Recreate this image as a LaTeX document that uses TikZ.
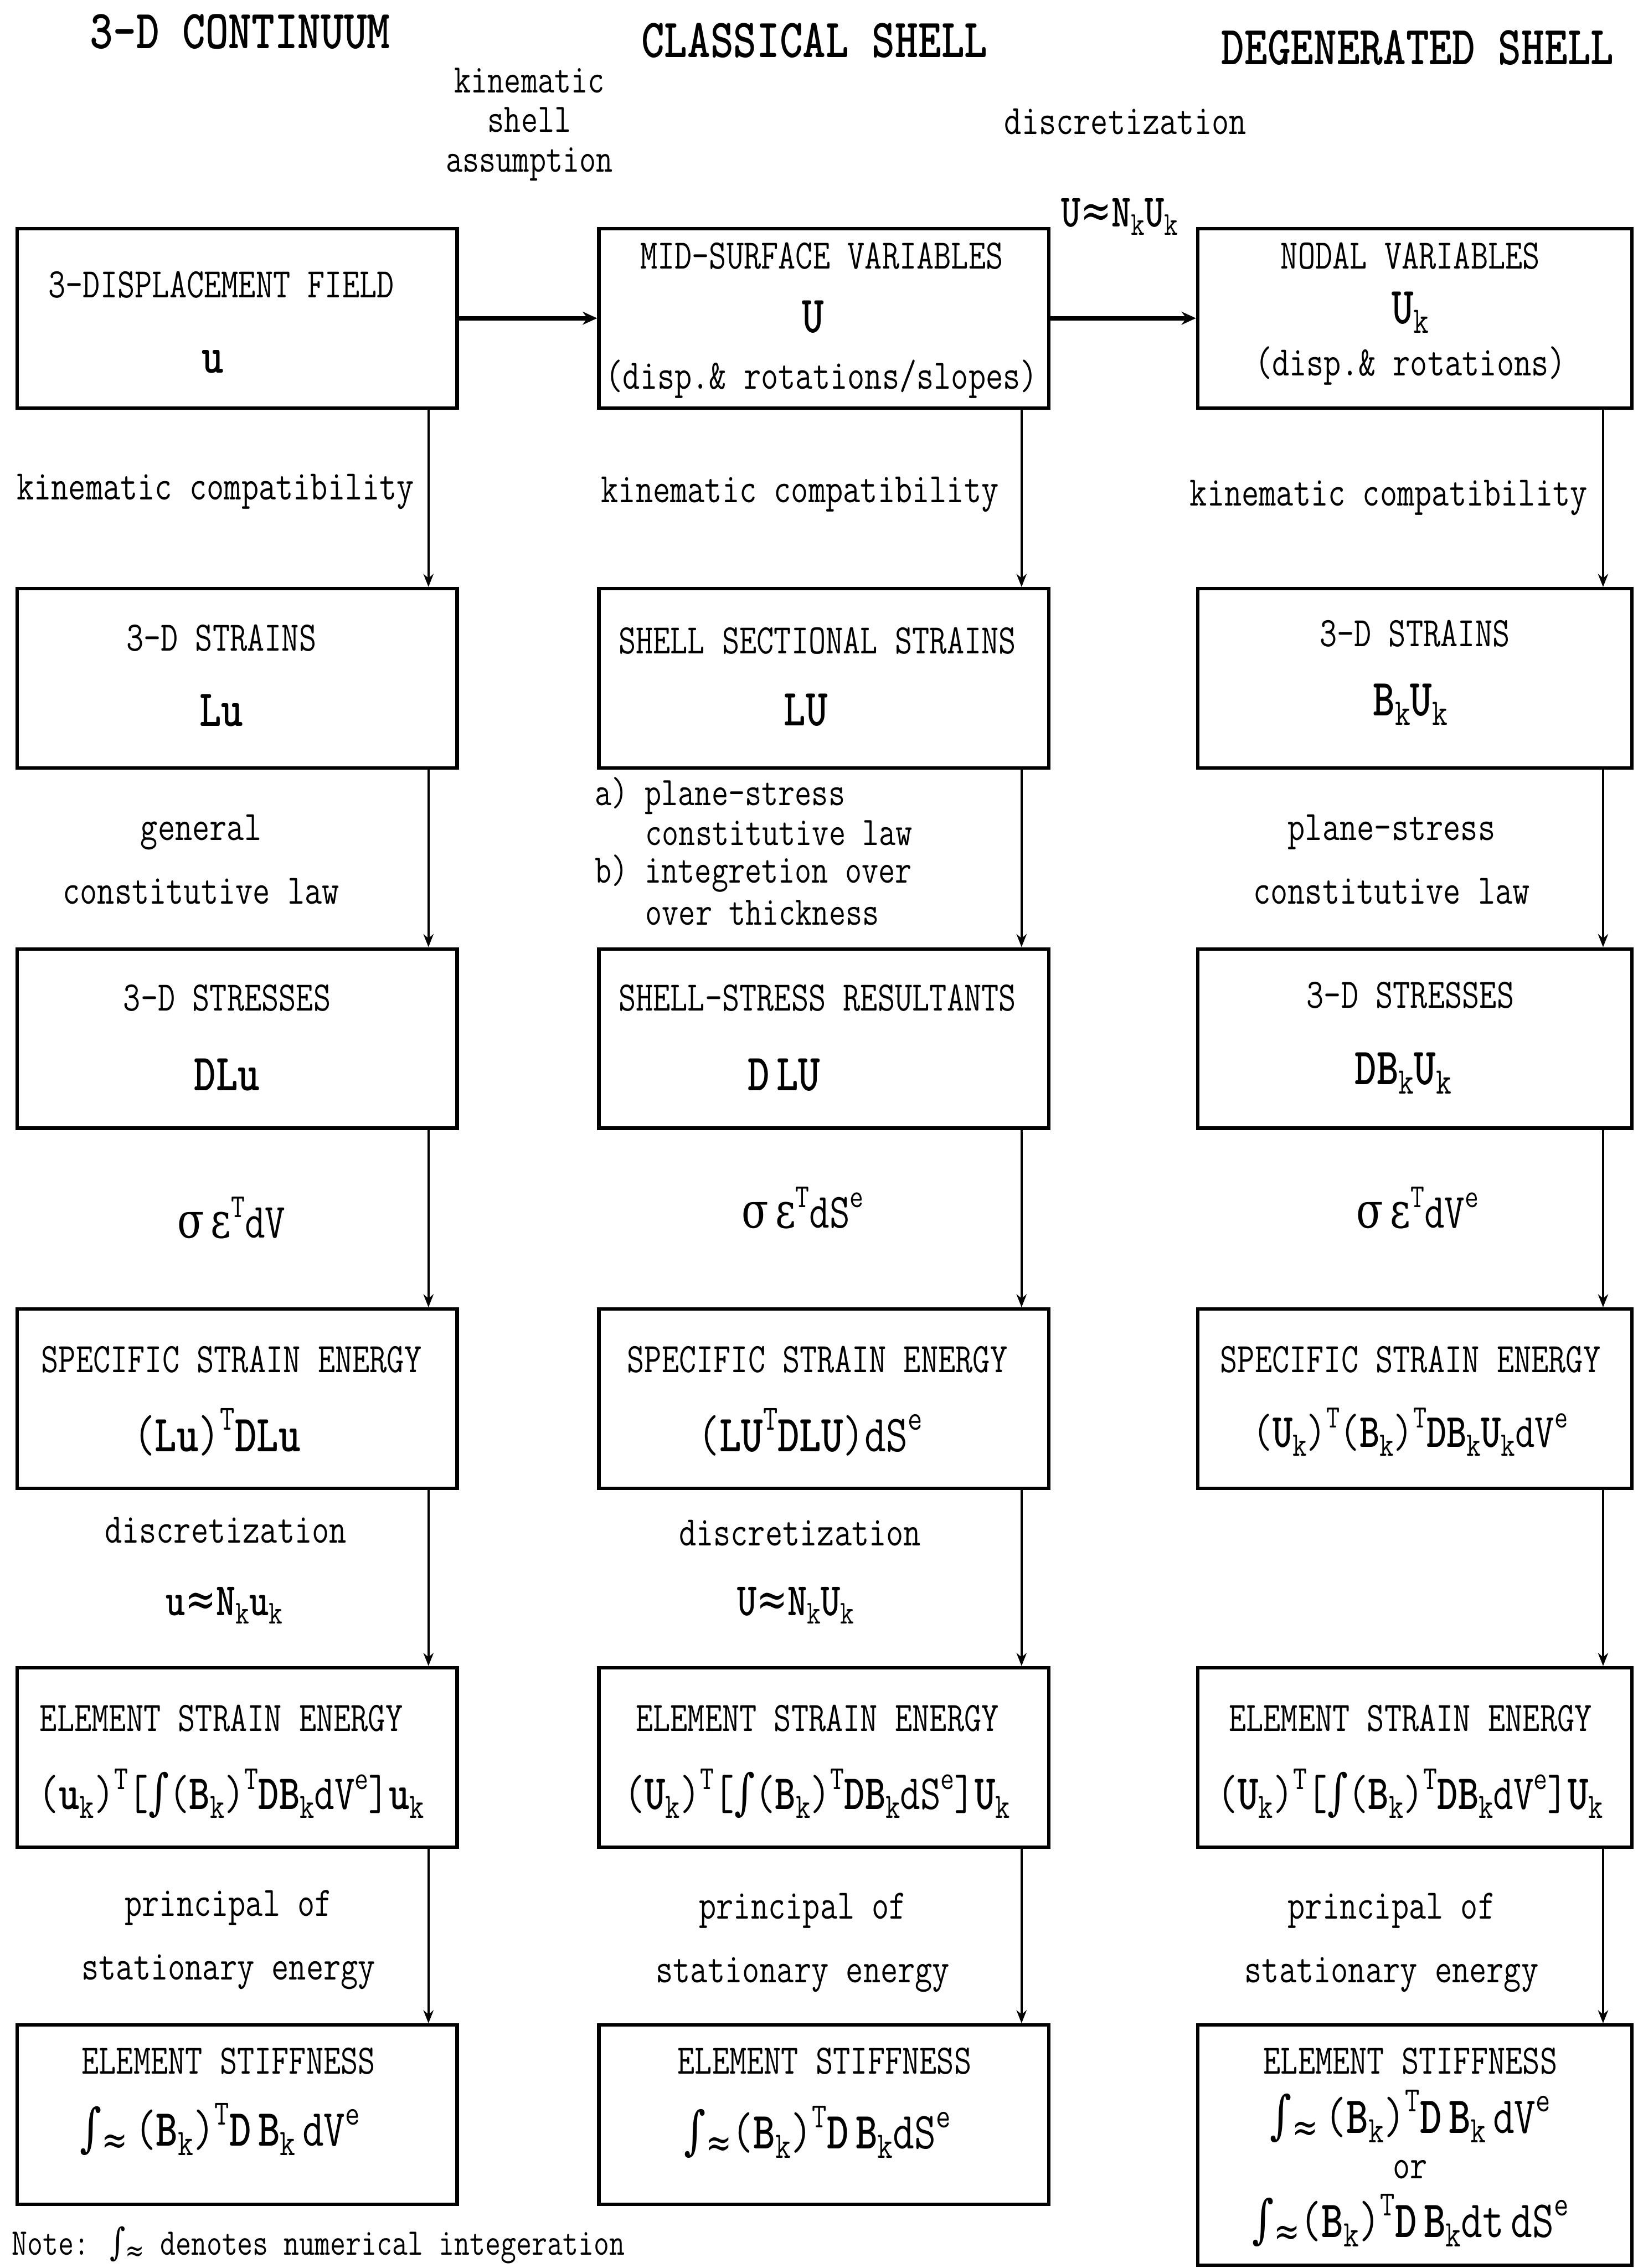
\documentclass[tikz,border=0pt]{standalone}
\usepackage{fontspec}
\newfontfamily\symf{DejaVu Serif}
\usetikzlibrary{arrows.meta}
\newcommand\cn[1]{\scalebox{0.8}[1]{#1}}
\newcommand\sub[1]{\raisebox{-0.42ex}{\scalebox{0.72}{#1}}}
\newcommand\sps[1]{\raisebox{0.95ex}{\scalebox{0.68}{#1}}}
\newcommand\B[1]{\textbf{#1}}
\newcommand\sg{{\symf σ}}
\newcommand\ep{{\symf ε}}
\newcommand\apx{{\symf ≈}}
\newcommand\intg{{\symf ∫}}
\newcommand\inta{{\symf ∫\raisebox{-0.15em}{\scalebox{0.75}{≈}}}}
\tikzset{
  box/.style={draw, line width=2.4pt, inner sep=0pt},
  lbl/.style={inner sep=0pt, font=\ttfamily\fontsize{29}{34}\selectfont},
  lst/.style={inner sep=0pt, anchor=west, font=\ttfamily\fontsize{28}{30}\selectfont},
  ttl/.style={inner sep=0pt, font=\ttfamily\bfseries\fontsize{38}{44}\selectfont},
  fml/.style={inner sep=0pt, font=\ttfamily\fontsize{36}{42}\selectfont},
  varr/.style={line width=1.6pt, -{Stealth[length=9pt,width=7pt]}},
  harr/.style={line width=3pt, -{Stealth[length=10pt,width=9pt]}},
}
\begin{document}
\begin{tikzpicture}[x=1pt,y=-1pt]
\useasboundingbox[fill=white] (0,0) rectangle (1132,1568);
% headings
\node[ttl] (h1) at (166,22) {\cn{3-D CONTINUUM}};
\node[ttl] (h2) at (563,28) {\cn{CLASSICAL SHELL}};
\node[ttl] (h3) at (980,33) {\cn{DEGENERATED SHELL}};
\node[lbl, align=center, font=\ttfamily\fontsize{28}{27.5}\selectfont] (ksa) at (366,86) {\cn{kinematic}\\\cn{shell}\\\cn{assumption}};
\node[lbl] (dz0) at (778,84) {\cn{discretization}};
\node[fml, font=\ttfamily\fontsize{32}{36}\selectfont] (uz0) at (774,150) {\cn{\B{U}\apx\B{N}\sub{k}\B{U}\sub{k}}};
% boxes: b<row><col>
\foreach \r/\y in {1/220,2/469,3/718,4/967,5/1215,6/1462}{
  \node[box, minimum width=304pt, minimum height=124pt] (b\r1) at (164,\y) {};
  \node[box, minimum width=311pt, minimum height=124pt] (b\r2) at (569.5,\y) {};
}
\foreach \r/\y in {1/220,2/469,3/718,4/967,5/1215}{
  \node[box, minimum width=300pt, minimum height=124pt] (b\r3) at (978,\y) {};
}
\node[box, minimum width=300pt, minimum height=166pt] (b63) at (978,1483) {};
% arrows
\foreach \r/\n in {1/2,2/3,3/4,4/5,5/6}{
  \draw[varr] ([xshift=-21pt]b\r1.south east) -- ([xshift=-21pt]b\n1.north east);
  \draw[varr] ([xshift=-20pt]b\r2.south east) -- ([xshift=-20pt]b\n2.north east);
  \draw[varr] ([xshift=-21pt]b\r3.south east) -- ([xshift=-21pt]b\n3.north east);
}
\draw[harr] (b11.east) -- (b12.west);
\draw[harr] (b12.east) -- (b13.west);
% row 1
\node[lbl] (t11) at (153,197) {\cn{3-DISPLACEMENT FIELD}};
\node[fml] (f11) at (147,250) {\cn{\B{u}}};
\node[lbl] (t12) at (568,177) {\cn{MID-SURFACE VARIABLES}};
\node[fml] (f12) at (562,219) {\cn{\B{U}}};
\node[lbl] (g12) at (568,262) {\cn{(disp.\& rotations/slopes)}};
\node[lbl] (t13) at (975,177) {\cn{NODAL VARIABLES}};
\node[fml] (f13) at (975,216) {\cn{\B{U}\sub{k}}};
\node[lbl] (g13) at (975,253) {\cn{(disp.\& rotations)}};
% labels 1-2
\node[lbl] (k1) at (149,340) {\cn{kinematic compatibility}};
\node[lbl] (k2) at (553,342) {\cn{kinematic compatibility}};
\node[lbl] (k3) at (960,344) {\cn{kinematic compatibility}};
% row 2
\node[lbl] (t21) at (153,441) {\cn{3-D STRAINS}};
\node[fml] (f21) at (153,491) {\cn{\B{Lu}}};
\node[lbl] (t22) at (565,443) {\cn{SHELL SECTIONAL STRAINS}};
\node[fml] (f22) at (557,491) {\cn{\B{LU}}};
\node[lbl] (t23) at (978,438) {\cn{3-D STRAINS}};
\node[fml] (f23) at (975,487) {\cn{\B{B}\sub{k}\B{U}\sub{k}}};
% labels 2-3
\node[lbl, align=center] (c1) at (139,594) {\cn{general}\\[10pt]\cn{constitutive law}};
\node[lst] (c2a) at (411,550) {\cn{a) plane-stress}};
\node[lst] (c2b) at (446,576) {\cn{constitutive law}};
\node[lst] (c2c) at (411,604) {\cn{b) integretion over}};
\node[lst] (c2d) at (446,631) {\cn{over thickness}};
\node[lbl, align=center] (c3) at (962,594) {\cn{plane-stress}\\[10pt]\cn{constitutive law}};
% row 3
\node[lbl] (t31) at (157,690) {\cn{3-D STRESSES}};
\node[fml] (f31) at (157,743) {\cn{\B{DLu}}};
\node[lbl] (t32) at (565,690) {\cn{SHELL-STRESS RESULTANTS}};
\node[fml] (f32) at (542,743) {\cn{\B{D\,LU}}};
\node[lbl] (t33) at (975,688) {\cn{3-D STRESSES}};
\node[fml] (f33) at (970,742) {\cn{\B{DB}\sub{k}\B{U}\sub{k}}};
% labels 3-4
\node[fml, font=\ttfamily\fontsize{34}{40}\selectfont] (s1) at (160,842) {\cn{\sg\,\ep\sps{T}dV}};
\node[fml, font=\ttfamily\fontsize{34}{40}\selectfont] (s2) at (555,835) {\cn{\sg\,\ep\sps{T}dS\sps{e}}};
\node[fml, font=\ttfamily\fontsize{34}{40}\selectfont] (s3) at (980,835) {\cn{\sg\,\ep\sps{T}dV\sps{e}}};
% row 4
\node[lbl] (t41) at (160,940) {\cn{SPECIFIC STRAIN ENERGY}};
\node[fml] (f41) at (150,990) {\cn{(\B{Lu})\sps{T}\B{DLu}}};
\node[lbl] (t42) at (565,940) {\cn{SPECIFIC STRAIN ENERGY}};
\node[fml] (f42) at (560,990) {\cn{(\B{LU}\sps{T}\B{DLU})dS\sps{e}}};
\node[lbl] (t43) at (975,940) {\cn{SPECIFIC STRAIN ENERGY}};
\node[fml, font=\ttfamily\fontsize{33}{38}\selectfont] (f43) at (975,990) {\cn{(\B{U}\sub{k})\sps{T}(\B{B}\sub{k})\sps{T}\B{DB}\sub{k}\B{U}\sub{k}dV\sps{e}}};
% labels 4-5
\node[lbl] (d1) at (156,1058) {\cn{discretization}};
\node[fml, font=\ttfamily\fontsize{32}{36}\selectfont] (u1) at (155,1110) {\cn{\B{u}\apx\B{N}\sub{k}\B{u}\sub{k}}};
\node[lbl] (d2) at (553,1060) {\cn{discretization}};
\node[fml, font=\ttfamily\fontsize{32}{36}\selectfont] (u2) at (550,1110) {\cn{\B{U}\apx\B{N}\sub{k}\B{U}\sub{k}}};
% row 5
\node[lbl] (t51) at (153,1188) {\cn{ELEMENT STRAIN ENERGY}};
\node[fml, font=\ttfamily\fontsize{34}{40}\selectfont] (f51) at (160,1240) {\cn{(\B{u}\sub{k})\sps{T}[\intg(\B{B}\sub{k})\sps{T}\B{DB}\sub{k}dV\sps{e}]\B{u}\sub{k}}};
\node[lbl] (t52) at (565,1188) {\cn{ELEMENT STRAIN ENERGY}};
\node[fml, font=\ttfamily\fontsize{34}{40}\selectfont] (f52) at (565,1240) {\cn{(\B{U}\sub{k})\sps{T}[\intg(\B{B}\sub{k})\sps{T}\B{DB}\sub{k}dS\sps{e}]\B{U}\sub{k}}};
\node[lbl] (t53) at (975,1188) {\cn{ELEMENT STRAIN ENERGY}};
\node[fml, font=\ttfamily\fontsize{34}{40}\selectfont] (f53) at (975,1240) {\cn{(\B{U}\sub{k})\sps{T}[\intg(\B{B}\sub{k})\sps{T}\B{DB}\sub{k}dV\sps{e}]\B{U}\sub{k}}};
% labels 5-6
\node[lbl, align=center] (p1) at (158,1341) {\cn{principal of}\\[10pt]\cn{stationary energy}};
\node[lbl, align=center] (p2) at (555,1343) {\cn{principal of}\\[10pt]\cn{stationary energy}};
\node[lbl, align=center] (p3) at (962,1343) {\cn{principal of}\\[10pt]\cn{stationary energy}};
% row 6
\node[lbl] (t61) at (158,1425) {\cn{ELEMENT STIFFNESS}};
\node[fml] (f61) at (152,1472) {\cn{\inta\,(\B{B}\sub{k})\sps{T}\B{D\,B}\sub{k}\,dV\sps{e}}};
\node[lbl] (t62) at (570,1425) {\cn{ELEMENT STIFFNESS}};
\node[fml] (f62) at (565,1474) {\cn{\inta(\B{B}\sub{k})\sps{T}\B{D\,B}\sub{k}dS\sps{e}}};
\node[lbl] (t63) at (975,1425) {\cn{ELEMENT STIFFNESS}};
\node[fml] (f63a) at (975,1463) {\cn{\inta\,(\B{B}\sub{k})\sps{T}\B{D\,B}\sub{k}\,dV\sps{e}}};
\node[lbl] (or) at (975,1500) {\cn{or}};
\node[fml] (f63b) at (975,1535) {\cn{\inta(\B{B}\sub{k})\sps{T}\B{D\,B}\sub{k}dt\,dS\sps{e}}};
% note
\node[lbl, anchor=west, font=\ttfamily\fontsize{26}{30}\selectfont] (note) at (8,1552) {\cn{Note: \inta\ denotes numerical integeration}};
\end{tikzpicture}
\end{document}
